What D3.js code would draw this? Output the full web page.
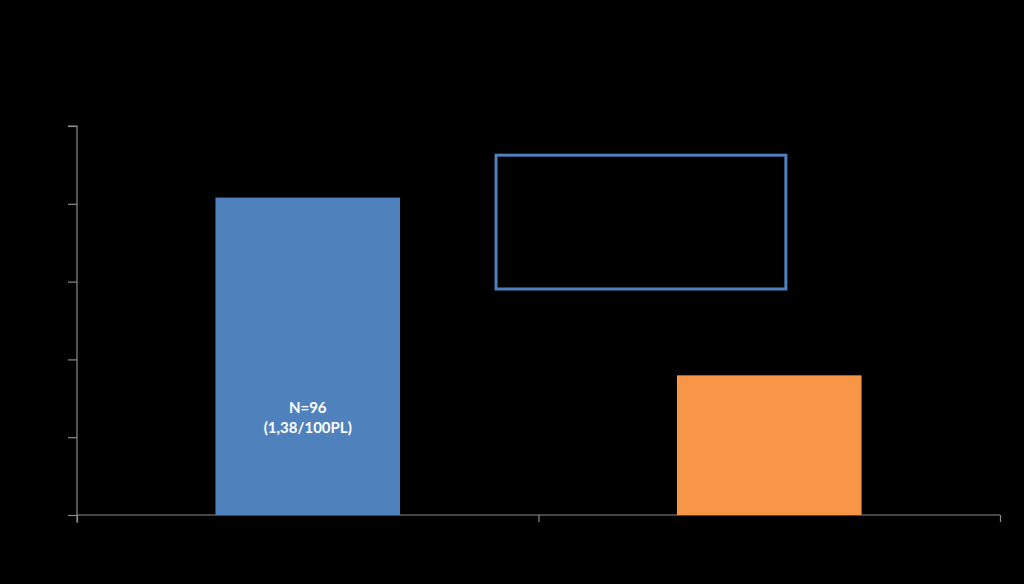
<!DOCTYPE html>
<html>
<head>
<meta charset="utf-8">
<script src="https://cdn.jsdelivr.net/npm/d3@7"></script>
<style>
  html, body { margin: 0; padding: 0; background: #000; }
  svg { display: block; }
</style>
</head>
<body>
<svg id="chart" width="1024" height="584"></svg>
<script>
// ---- data ----
const categories = ["A", "B"];
const values = [81.6, 35.9];
const barColors = ["#4f81bd", "#f79646"];
const yTicks = [0, 20, 40, 60, 80, 100];
const barLabels = [["N=96", "(1,38/100PL)"], []];
// annotation box in data units (category-index on x, value on y)
const boxX = [0.908, 1.536];
const boxY = [58.1, 92.5];

// ---- layout ----
const svg = d3.select("#chart");
const W = 1024, H = 584;
const margin = { left: 77, right: 24, top: 126, bottom: 69 };
const x0 = margin.left, x1 = W - margin.right;
const yBase = H - margin.bottom, yTop = margin.top;

svg.append("rect").attr("width", W).attr("height", H).attr("fill", "#000");

const x = d3.scaleBand().domain(categories).range([x0, x1])
  .paddingInner(0.6).paddingOuter(0.3);
const xl = d3.scaleLinear().domain([0, categories.length]).range([x0, x1]);
const y = d3.scaleLinear().domain([0, 100]).range([yBase, yTop]);

const axisColor = "#8c8c8c";

// y axis
const gy = svg.append("g").attr("transform", `translate(${x0},0)`)
  .call(d3.axisLeft(y).tickValues(yTicks).tickSize(9).tickFormat(""));
gy.select(".domain").attr("stroke", axisColor).attr("stroke-width", 1.2)
  .attr("d", `M-9,${yTop}H0V${yBase + 8}`);
gy.selectAll(".tick line").attr("stroke", axisColor).attr("stroke-width", 1.2);

// x axis
const gx = svg.append("g").attr("transform", `translate(0,${yBase})`)
  .call(d3.axisBottom(xl).tickValues(d3.range(0, categories.length + 1)).tickSize(7).tickFormat(""));
gx.select(".domain").attr("stroke", axisColor).attr("stroke-width", 1.2)
  .attr("d", `M${x0},0H${x1}`);
gx.selectAll(".tick line").attr("stroke", axisColor).attr("stroke-width", 1.2);

// bars
svg.append("g").selectAll("rect").data(values).join("rect")
  .attr("x", (d, i) => x(categories[i]))
  .attr("width", x.bandwidth())
  .attr("y", d => y(d))
  .attr("height", d => y(0) - y(d))
  .attr("fill", (d, i) => barColors[i]);

// bar labels
categories.forEach((c, i) => {
  const lines = barLabels[i];
  if (!lines.length) return;
  const t = svg.append("text")
    .attr("x", x(c) + x.bandwidth() / 2)
    .attr("y", 413)
    .attr("text-anchor", "middle")
    .attr("fill", "#ffffff")
    .attr("font-family", "Lato, 'Open Sans', sans-serif")
    .attr("font-weight", "bold")
    .attr("font-size", 15);
  lines.forEach((l, k) => {
    t.append("tspan").attr("x", x(c) + x.bandwidth() / 2)
      .attr("dy", k === 0 ? 0 : 20).text(l);
  });
});

// annotation box
svg.append("rect")
  .attr("x", xl(boxX[0]))
  .attr("y", y(boxY[1]))
  .attr("width", xl(boxX[1]) - xl(boxX[0]))
  .attr("height", y(boxY[0]) - y(boxY[1]))
  .attr("fill", "none")
  .attr("stroke", "#4f81bd")
  .attr("stroke-width", 3);
</script>
</body>
</html>
